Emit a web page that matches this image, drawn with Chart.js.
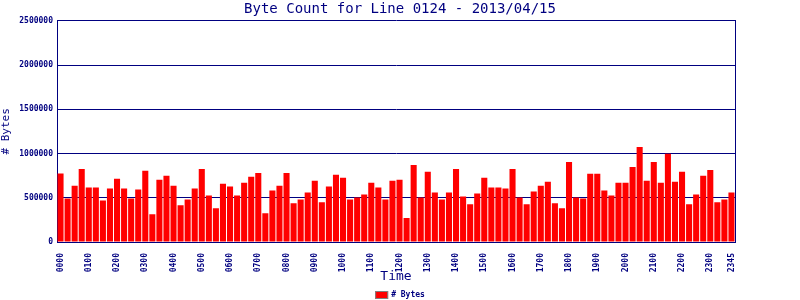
<!DOCTYPE html>
<html>
<head>
<meta charset="utf-8">
<script src="https://cdn.jsdelivr.net/npm/chart.js@4/dist/chart.umd.min.js"></script>
<style>
  html, body { margin: 0; padding: 0; background: #fff; }
  #wrap { width: 800px; height: 300px; }
</style>
</head>
<body>
<div id="wrap"><canvas id="myChart" width="800" height="300"></canvas></div>
<script>
// 15分ごとの時刻ラベル
var times = [
  "0000","0015","0030","0045","0100","0115","0130","0145","0200","0215","0230","0245",
  "0300","0315","0330","0345","0400","0415","0430","0445","0500","0515","0530","0545",
  "0600","0615","0630","0645","0700","0715","0730","0745","0800","0815","0830","0845",
  "0900","0915","0930","0945","1000","1015","1030","1045","1100","1115","1130","1145",
  "1200","1215","1230","1245","1300","1315","1330","1345","1400","1415","1430","1445",
  "1500","1515","1530","1545","1600","1615","1630","1645","1700","1715","1730","1745",
  "1800","1815","1830","1845","1900","1915","1930","1945","2000","2015","2030","2045",
  "2100","2115","2130","2145","2200","2215","2230","2245","2300","2315","2330","2345"
];

// バイト数
var bytes = [
  774000, 493000, 637000, 826000, 615000, 615000, 470000, 604000, 715000, 604000, 493000, 593000,
  804000, 315000, 704000, 748000, 637000, 415000, 481000, 604000, 826000, 526000, 381000, 659000,
  626000, 526000, 670000, 737000, 781000, 326000, 581000, 637000, 781000, 437000, 481000, 559000,
  693000, 448000, 626000, 759000, 726000, 481000, 504000, 537000, 670000, 615000, 481000, 693000,
  704000, 270000, 870000, 504000, 793000, 559000, 481000, 559000, 826000, 515000, 426000, 548000,
  726000, 615000, 615000, 604000, 826000, 504000, 426000, 570000, 637000, 681000, 437000, 381000,
  904000, 504000, 493000, 770000, 770000, 581000, 526000, 670000, 670000, 848000, 1074000, 693000,
  904000, 670000, 996000, 681000, 793000, 426000, 537000, 748000, 815000, 448000, 481000, 559000
];

// 表示する時刻ラベル (毎正時 + 最後)
var shownTimes = ["0000","0100","0200","0300","0400","0500","0600","0700","0800","0900","1000","1100",
  "1200","1300","1400","1500","1600","1700","1800","1900","2000","2100","2200","2300","2345"];

var navy = "#000080";
var mono = "'DejaVu Sans Mono', monospace";

// 凡例は下に小さく自前で描く
var smallLegend = {
  id: 'smallLegend',
  afterDraw: function(chart) {
    var c = chart.ctx;
    var ds = chart.data.datasets[0];
    c.save();
    c.font = "bold 8px " + mono;
    var tw = c.measureText(ds.label).width;
    var boxW = 13, boxH = 8, gap = 3;
    var x = (chart.width - (boxW + gap + tw)) / 2;
    var yc = chart.height - 5;
    c.fillStyle = ds.backgroundColor;
    c.fillRect(x, yc - boxH / 2, boxW, boxH);
    c.strokeStyle = '#808080';
    c.lineWidth = 1;
    c.strokeRect(x + 0.5, yc - boxH / 2 + 0.5, boxW - 1, boxH - 1);
    c.fillStyle = navy;
    c.textBaseline = 'middle';
    c.fillText(ds.label, x + boxW + gap, yc);
    c.restore();
  }
};

var ctx = document.getElementById("myChart").getContext("2d");
var myChart = new Chart(ctx, {
  type: 'bar',
  data: {
    labels: times,
    datasets: [{
      label: '# Bytes',
      data: bytes,
      backgroundColor: '#ff0000',
      borderWidth: 0,
      barPercentage: 0.86,
      categoryPercentage: 1.0
    }]
  },
  options: {
    responsive: false,
    animation: false,
    layout: { padding: { bottom: 14 } },
    plugins: {
      title: {
        display: true,
        text: 'Byte Count for Line 0124 - 2013/04/15',
        color: navy,
        font: { family: mono, size: 14, weight: 'normal' },
        padding: { top: 1, bottom: 3 }
      },
      legend: { display: false },
      tooltip: { enabled: false }
    },
    scales: {
      x: {
        grid: { display: false },
        border: { display: true, color: navy, width: 1 },
        ticks: {
          autoSkip: false,
          maxRotation: 90,
          minRotation: 90,
          padding: 3,
          color: navy,
          font: { family: mono, size: 8, weight: 'bold' },
          callback: function(value, index) {
            var t = times[index];
            return shownTimes.indexOf(t) >= 0 ? t : '';
          }
        },
        title: {
          display: true,
          text: 'Time',
          color: navy,
          font: { family: mono, size: 13, weight: 'normal' },
          padding: { top: 0, bottom: 2 }
        },
        afterFit: function(scale) { scale.height = 44; }
      },
      y: {
        min: 0,
        max: 2500000,
        z: 1,
        grid: { color: navy, lineWidth: 1, drawTicks: false },
        border: { display: true, color: navy, width: 1 },
        ticks: {
          stepSize: 500000,
          padding: 4,
          color: navy,
          font: { family: mono, size: 8, weight: 'bold' },
          callback: function(value) { return value.toString(); }
        },
        title: {
          display: true,
          text: '# Bytes',
          color: navy,
          font: { family: mono, size: 11, weight: 'normal' },
          padding: { top: 0, bottom: 2 }
        },
        afterFit: function(scale) { scale.width = 57; }
      },
      y2: {
        position: 'right',
        min: 0,
        max: 2500000,
        grid: { display: false },
        border: { display: true, color: navy, width: 1 },
        ticks: { display: false },
        afterFit: function(scale) { scale.width = 65; }
      }
    }
  },
  plugins: [smallLegend]
});
</script>
</body>
</html>
